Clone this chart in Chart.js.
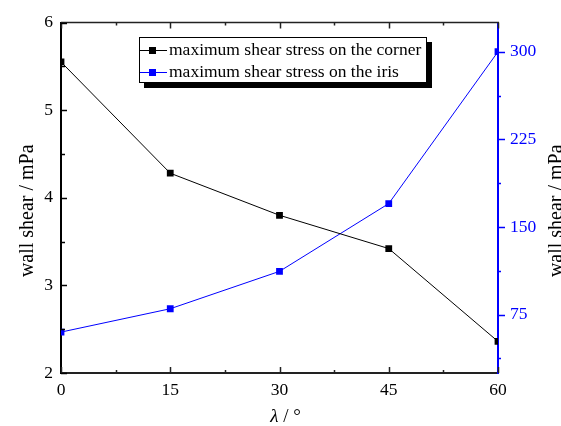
<!DOCTYPE html>
<html>
<head>
<meta charset="utf-8">
<script src="https://cdn.jsdelivr.net/npm/chart.js@4/dist/chart.umd.min.js"></script>
<style>
  html, body { margin: 0; padding: 0; background: #fff; }
  #wrap { width: 561px; height: 426px; }
</style>
</head>
<body>
<div id="wrap"><canvas id="c" width="561" height="426"></canvas></div>
<script>
// Inclination angle λ (degrees)
const angles = [0, 15, 30, 45, 60];
// Maximum wall shear stress at the corner (mPa, left axis)
const cornerStress = [5.55, 4.28, 3.80, 3.42, 2.36];
// Maximum wall shear stress at the iris (mPa, right axis)
const irisStress = [60, 80, 112, 170, 300];

const xTicks = [0, 15, 30, 45, 60];
const leftTicks = [2, 3, 4, 5, 6];
const rightTicks = [75, 150, 225, 300];

const seriesNames = ['maximum shear stress on the corner', 'maximum shear stress on the iris'];
const yTitle = 'wall shear / mPa';
const xTitleSymbol = 'λ';
const xTitleUnit = ' / °';

const SERIF = '"Liberation Serif", "Times New Roman", serif';
const BLUE = '#0000ff';
const FRAME = '#222';

const toPoints = (xs, ys) => xs.map((x, i) => ({ x: x, y: ys[i] }));
const asTicks = arr => arr.map(v => ({ value: v }));

// midpoints between major ticks (plus one half-step beyond each end, inside the range)
function minorValues(major, min, max) {
  const out = [];
  const step = major[1] - major[0];
  const first = major[0] - step / 2;
  for (let v = first; v <= max + 1e-9; v += step) {
    if (v >= min - 1e-9 && !major.some(m => Math.abs(m - v) < 1e-9)) out.push(v);
  }
  return out;
}

const framePlugin = {
  id: 'frameAndLegend',
  afterDraw(chart) {
    const ctx = chart.ctx;
    const { left, right, top, bottom } = chart.chartArea;
    const xs = chart.scales.x, yl = chart.scales.y, yr = chart.scales.y1;
    const line = (x1, y1, x2, y2) => { ctx.beginPath(); ctx.moveTo(x1, y1); ctx.lineTo(x2, y2); ctx.stroke(); };

    ctx.save();
    // top frame line
    ctx.strokeStyle = FRAME;
    ctx.lineWidth = 1.5;
    line(left, top, right + 1, top);

    // x ticks (inward) on bottom and top
    ctx.lineWidth = 1.5;
    xTicks.forEach(v => {
      const p = Math.round(xs.getPixelForValue(v)) + 0.5;
      line(p, bottom, p, bottom - 6);
      line(p, top, p, top + 6);
    });
    minorValues(xTicks, xs.min, xs.max).forEach(v => {
      const p = Math.round(xs.getPixelForValue(v)) + 0.5;
      line(p, bottom, p, bottom - 3);
      line(p, top, p, top + 3);
    });

    // left ticks (inward)
    ctx.strokeStyle = '#000';
    leftTicks.forEach(v => {
      const p = Math.round(yl.getPixelForValue(v)) + 0.5;
      line(left, p, left + 6, p);
    });
    minorValues(leftTicks, yl.min, yl.max).forEach(v => {
      const p = Math.round(yl.getPixelForValue(v)) + 0.5;
      line(left, p, left + 4, p);
    });

    // right ticks (outward, blue)
    ctx.strokeStyle = BLUE;
    rightTicks.forEach(v => {
      const p = Math.round(yr.getPixelForValue(v)) + 0.5;
      line(right, p, right + 7, p);
    });
    minorValues(rightTicks, yr.min, yr.max).forEach(v => {
      const p = Math.round(yr.getPixelForValue(v)) + 0.5;
      line(right, p, right + 3, p);
    });

    // axis titles
    ctx.fillStyle = '#000';
    ctx.font = '20px ' + SERIF;
    ctx.textAlign = 'center';
    ctx.textBaseline = 'alphabetic';
    const midY = (top + bottom) / 2 + 13;
    ctx.save();
    ctx.translate(33, midY);
    ctx.rotate(-Math.PI / 2);
    ctx.fillText(yTitle, 0, 0);
    ctx.restore();
    ctx.save();
    ctx.translate(562, midY);
    ctx.rotate(-Math.PI / 2);
    ctx.fillText(yTitle, 0, 0);
    ctx.restore();

    // x title: italic λ followed by upright unit
    const fItal = 'italic 19px ' + SERIF, fUp = '19px ' + SERIF;
    ctx.font = fItal; const w1 = ctx.measureText(xTitleSymbol).width;
    ctx.font = fUp; const w2 = ctx.measureText(xTitleUnit).width;
    const cx = (left + right) / 2 + 6;
    const x0 = cx - (w1 + w2) / 2, by = 421.5;
    ctx.textAlign = 'left';
    ctx.font = fItal; ctx.fillText(xTitleSymbol, x0, by);
    ctx.font = fUp; ctx.fillText(xTitleUnit, x0 + w1, by);

    // legend box with drop shadow
    const lx = 139, ly = 37, lw = 288, lh = 46;
    ctx.fillStyle = '#000';
    ctx.fillRect(lx + 5, ly + 5, lw, lh);
    ctx.fillStyle = '#fff';
    ctx.fillRect(lx, ly, lw, lh);
    ctx.strokeStyle = '#000';
    ctx.lineWidth = 1;
    ctx.strokeRect(lx + 0.5, ly + 0.5, lw - 1, lh - 1);

    const rows = [
      { color: '#000', name: seriesNames[0], cy: 50, base: 54.5 },
      { color: BLUE, name: seriesNames[1], cy: 72, base: 76.5 }
    ];
    ctx.font = '17.5px ' + SERIF;
    ctx.textAlign = 'left';
    rows.forEach(r => {
      ctx.strokeStyle = r.color;
      ctx.lineWidth = 1;
      line(lx + 1, r.cy + 0.5, lx + 28, r.cy + 0.5);
      ctx.fillStyle = r.color;
      ctx.fillRect(lx + 10, r.cy - 3, 7, 7);
      ctx.fillStyle = '#000';
      ctx.fillText(r.name, lx + 30, r.base);
    });
    ctx.restore();
  }
};

const tickFont = { family: SERIF, size: 17.5 };

new Chart(document.getElementById('c'), {
  type: 'line',
  data: {
    datasets: [
      {
        label: seriesNames[0],
        data: toPoints(angles, cornerStress),
        yAxisID: 'y',
        borderColor: '#000',
        backgroundColor: '#000',
        borderWidth: 1,
        pointStyle: 'rect',
        pointRadius: 4.8,
        pointBorderWidth: 0,
        tension: 0
      },
      {
        label: seriesNames[1],
        data: toPoints(angles, irisStress),
        yAxisID: 'y1',
        borderColor: BLUE,
        backgroundColor: BLUE,
        borderWidth: 1,
        pointStyle: 'rect',
        pointRadius: 4.8,
        pointBorderWidth: 0,
        tension: 0
      }
    ]
  },
  options: {
    responsive: false,
    animation: false,
    devicePixelRatio: 1,
    layout: { padding: { top: 21, left: 0, right: 0, bottom: 0 } },
    plugins: { legend: { display: false }, tooltip: { enabled: false } },
    scales: {
      x: {
        type: 'linear',
        position: 'bottom',
        min: 0, max: 60,
        afterBuildTicks: s => { s.ticks = asTicks(xTicks); },
        afterFit: s => { s.height = 53; },
        ticks: { font: tickFont, color: '#000', padding: 7, maxRotation: 0 },
        grid: { display: false, drawTicks: false },
        border: { display: true, color: FRAME, width: 2 }
      },
      y: {
        type: 'linear',
        position: 'left',
        min: 2, max: 6,
        afterBuildTicks: s => { s.ticks = asTicks(leftTicks); },
        afterFit: s => { s.width = 61; },
        ticks: { font: tickFont, color: '#000', padding: 8 },
        grid: { display: false, drawTicks: false },
        border: { display: true, color: '#000', width: 2 }
      },
      y1: {
        type: 'linear',
        position: 'right',
        min: 25, max: 325,
        afterBuildTicks: s => { s.ticks = asTicks(rightTicks); },
        afterFit: s => { s.width = 63; },
        ticks: { font: tickFont, color: BLUE, padding: 12 },
        grid: { display: false, drawTicks: false },
        border: { display: true, color: BLUE, width: 2 }
      }
    }
  },
  plugins: [framePlugin]
});
</script>
</body>
</html>
